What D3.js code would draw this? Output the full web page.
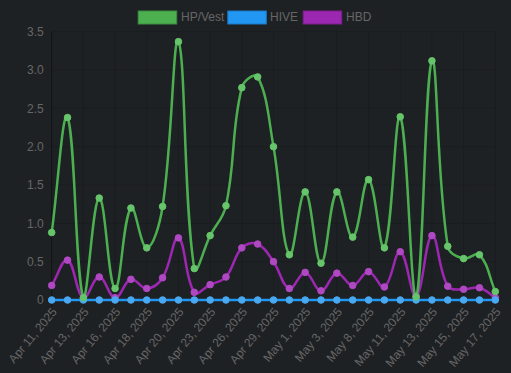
<!DOCTYPE html>
<html>
<head>
<meta charset="utf-8">
<script src="https://cdn.jsdelivr.net/npm/d3@7"></script>
<style>
html,body{margin:0;padding:0;background:#1e2124;}
svg{display:block;}
</style>
</head>
<body>
<svg id="chart" width="511" height="373"></svg>
<script>
const dates = ["Apr 11, 2025","Apr 12, 2025","Apr 13, 2025","Apr 15, 2025","Apr 16, 2025","Apr 17, 2025","Apr 18, 2025","Apr 19, 2025","Apr 20, 2025","Apr 22, 2025","Apr 23, 2025","Apr 25, 2025","Apr 26, 2025","Apr 28, 2025","Apr 29, 2025","Apr 30, 2025","May 1, 2025","May 2, 2025","May 3, 2025","May 6, 2025","May 8, 2025","May 10, 2025","May 11, 2025","May 12, 2025","May 13, 2025","May 14, 2025","May 15, 2025","May 16, 2025","May 17, 2025"];
const hpVest = [0.88,2.38,0.03,1.33,0.15,1.20,0.68,1.22,3.37,0.41,0.84,1.23,2.77,2.91,2.00,0.59,1.41,0.48,1.41,0.82,1.57,0.68,2.39,0.04,3.12,0.70,0.54,0.59,0.11];
const hive   = [0,0,0,0,0,0,0,0,0,0,0,0,0,0,0,0,0,0,0,0,0,0,0,0,0,0,0,0,0];
const hbd    = [0.19,0.52,0.03,0.30,0.03,0.27,0.15,0.29,0.81,0.10,0.20,0.30,0.68,0.73,0.50,0.15,0.36,0.12,0.35,0.19,0.37,0.17,0.63,0.05,0.84,0.18,0.14,0.16,0.03];
const yTicks = [0,0.5,1.0,1.5,2.0,2.5,3.0,3.5];
const seriesNames = ["HP/Vest","HIVE","HBD"];
const seriesColors = ["#4caf50","#2196f3","#9c27b0"];
const pointColors = ["#66c46a","#4aa8f0","#b048c4"];

const W = 511, H = 373;
const areaL = 51.7, areaR = 495.3, areaT = 31.7, areaB = 300;
const svg = d3.select("#chart");
svg.append("rect").attr("width",W).attr("height",H).attr("fill","#1e2124");

const x = d3.scalePoint().domain(dates).range([areaL, areaR]);
const y = d3.scaleLinear().domain([0,3.5]).range([areaB, areaT]);

const font = "'Liberation Sans', Arial, Helvetica, sans-serif";
const grid = svg.append("g");
yTicks.forEach(t => {
  grid.append("line").attr("x1",areaL).attr("x2",areaR).attr("y1",y(t)).attr("y2",y(t))
    .attr("stroke","rgba(0,0,0,0.13)").attr("stroke-width",1);
});
const shown = dates.filter((d,i)=> i%2===0);
shown.forEach((d,i) => {
  grid.append("line").attr("x1",x(d)).attr("x2",x(d)).attr("y1",areaT).attr("y2",areaB+8)
    .attr("stroke", i===0 ? "rgba(0,0,0,0.45)" : "rgba(0,0,0,0.13)").attr("stroke-width",1);
});
const yAxis = d3.axisLeft(y).tickValues(yTicks).tickSize(0).tickPadding(8)
  .tickFormat(d => d===0 ? "0" : d3.format(".1f")(d));
const ya = svg.append("g").attr("transform",`translate(${areaL},0)`).call(yAxis);
ya.select(".domain").remove();
ya.selectAll("text").attr("fill","#666").attr("font-size","12px").attr("font-family",font);

const xAxis = d3.axisBottom(x).tickValues(shown).tickSize(0).tickPadding(0);
const xa = svg.append("g").attr("transform",`translate(0,${areaB})`).call(xAxis);
xa.select(".domain").remove();
xa.selectAll("text").attr("fill","#666").attr("font-size","12px").attr("font-family",font)
  .attr("text-anchor","end").attr("dy",null).attr("y",0)
  .attr("transform","translate(3,10) rotate(-50)").attr("dominant-baseline","middle");

function splinePath(pts, t) {
  const n = pts.length;
  const cps = pts.map((p,i) => {
    const prev = pts[Math.max(0,i-1)], next = pts[Math.min(n-1,i+1)];
    const d01 = Math.hypot(p[0]-prev[0], p[1]-prev[1]);
    const d12 = Math.hypot(next[0]-p[0], next[1]-p[1]);
    let s01 = d01/(d01+d12), s12 = d12/(d01+d12);
    if (isNaN(s01)) s01 = 0; if (isNaN(s12)) s12 = 0;
    const fa = t*s01, fb = t*s12;
    const cap = (px,py) => [Math.max(areaL,Math.min(areaR,px)), Math.max(areaT,Math.min(areaB,py))];
    return {
      prev: cap(p[0]-fa*(next[0]-prev[0]), p[1]-fa*(next[1]-prev[1])),
      next: cap(p[0]+fb*(next[0]-prev[0]), p[1]+fb*(next[1]-prev[1]))
    };
  });
  const path = d3.path();
  path.moveTo(pts[0][0], pts[0][1]);
  for (let i=1;i<n;i++) {
    path.bezierCurveTo(cps[i-1].next[0], cps[i-1].next[1], cps[i].prev[0], cps[i].prev[1], pts[i][0], pts[i][1]);
  }
  return path.toString();
}

const allSeries = [hpVest, hive, hbd];
for (let s = allSeries.length-1; s>=0; s--) {
  const pts = allSeries[s].map((v,i)=>[x(dates[i]), y(v)]);
  const g = svg.append("g");
  g.append("path").attr("d", splinePath(pts, 0.4)).attr("fill","none")
    .attr("stroke", seriesColors[s]).attr("stroke-width",2.5);
  g.selectAll("circle").data(pts).join("circle")
    .attr("cx",d=>d[0]).attr("cy",d=>d[1]).attr("r",3.3)
    .attr("fill",pointColors[s]).attr("stroke",pointColors[s]).attr("stroke-width",1);
}

const legendItems = [
  {x:137.7, tx:181}, {x:227.3, tx:270}, {x:302.7, tx:346}
];
seriesNames.forEach((name,i) => {
  const li = legendItems[i];
  svg.append("rect").attr("x",li.x+0.5).attr("y",11).attr("width",38.5).attr("height",13)
    .attr("fill",seriesColors[i]).attr("stroke",d3.color(seriesColors[i]).darker(0.6)).attr("stroke-width",1);
  svg.append("text").attr("x",li.tx).attr("y",17.8).attr("dominant-baseline","middle")
    .attr("fill","#666").attr("font-size","12px").attr("font-family",font).text(name);
});
</script>
</body>
</html>
